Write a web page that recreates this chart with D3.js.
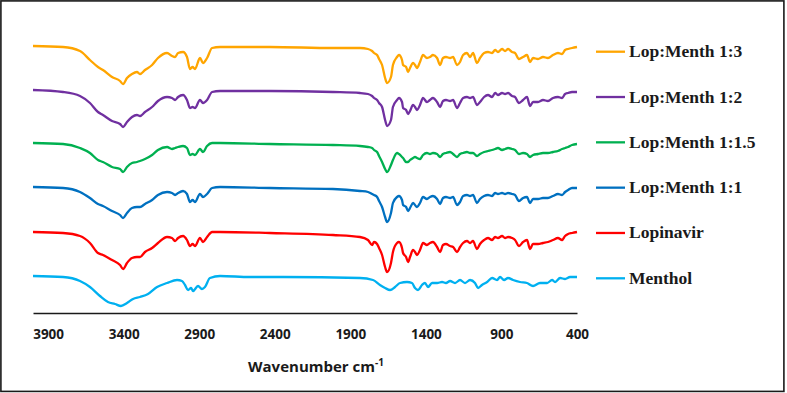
<!DOCTYPE html>
<html>
<head>
<meta charset="utf-8">
<script src="https://cdn.jsdelivr.net/npm/d3@7"></script>
<style>
  body { margin: 0; background: #fff; }
  svg { display: block; }
</style>
</head>
<body>
<div id="chart"></div>
<script>
// wavenumber grid shared by lopinavir and the physical mixtures (cm-1)
var wavenumbers = [4000, 3801, 3689, 3623, 3570, 3537, 3477, 3424, 3404, 3378,
  3345, 3312, 3292, 3259, 3212, 3173, 3113, 3080, 3060, 3040,
  3007, 2981, 2961, 2944, 2928, 2895, 2875, 2848, 2815, 2762,
  2432, 2015, 1836, 1783, 1756, 1743, 1723, 1710, 1690, 1670,
  1657, 1631, 1618, 1591, 1578, 1558, 1551, 1531, 1518, 1505,
  1485, 1472, 1459, 1439, 1419, 1393, 1373, 1353, 1326, 1306,
  1287, 1267, 1240, 1220, 1194, 1174, 1154, 1128, 1108, 1088,
  1062, 1042, 1015, 989, 962, 942, 923, 896, 876, 856,
  830, 810, 784, 757, 731, 711, 691, 658, 625, 592,
  559, 526, 499, 479, 459, 433, 400]

// transmittance, stacked with an offset (a.u.)
var lopMenth13 = [267, 266, 262, 253, 246, 243, 236, 232, 229, 235,
  239, 241, 239, 243, 248, 255, 260, 257, 256, 260,
  261, 256, 244, 246, 244, 255, 250, 255, 265, 266,
  266, 265, 265, 264, 262, 260, 258, 254, 248, 235,
  230, 236, 248, 256, 258, 253, 248, 246, 241, 245,
  250, 248, 245, 251, 258, 255, 256, 258, 255, 248,
  255, 256, 255, 256, 248, 251, 258, 260, 256, 260,
  250, 255, 260, 261, 260, 263, 261, 264, 262, 264,
  261, 260, 254, 256, 258, 251, 255, 254, 256, 255,
  258, 260, 259, 263, 264, 265, 266]

var lopMenth12 = [223, 221, 217, 210, 201, 198, 192, 189, 186, 191,
  196, 198, 197, 201, 206, 212, 216, 215, 213, 216,
  218, 213, 205, 206, 205, 213, 210, 213, 221, 222,
  222, 221, 220, 219, 217, 215, 213, 210, 206, 193,
  187, 193, 206, 213, 215, 211, 205, 203, 199, 202,
  208, 206, 203, 208, 215, 211, 213, 215, 211, 206,
  212, 213, 212, 213, 205, 210, 215, 216, 215, 216,
  208, 211, 216, 218, 216, 220, 218, 220, 219, 220,
  217, 216, 210, 213, 216, 207, 211, 211, 213, 212,
  215, 216, 215, 219, 220, 221, 221]

var lopMenth115 = [170, 169, 165, 160, 153, 151, 146, 144, 141, 146,
  150, 151, 152, 154, 158, 163, 166, 164, 165, 166,
  167, 165, 158, 159, 158, 164, 161, 167, 170, 170,
  169, 168, 167, 166, 165, 163, 161, 157, 151, 144,
  141, 148, 153, 160, 159, 156, 155, 151, 151, 153,
  155, 156, 155, 154, 158, 160, 159, 160, 159, 156,
  159, 160, 161, 159, 156, 159, 160, 161, 160, 160,
  157, 159, 161, 162, 163, 164, 165, 163, 164, 165,
  164, 163, 159, 160, 159, 156, 158, 159, 160, 160,
  161, 162, 164, 165, 166, 168, 169]

var lopMenth11 = [126, 125, 121, 115, 109, 107, 102, 98, 95, 100,
  105, 106, 106, 109, 113, 118, 121, 120, 118, 120,
  122, 119, 111, 113, 111, 119, 116, 119, 125, 126,
  125, 124, 122, 121, 119, 118, 116, 112, 106, 96,
  91, 100, 110, 116, 117, 113, 108, 106, 102, 105,
  110, 108, 106, 110, 116, 114, 116, 117, 114, 109,
  115, 116, 115, 116, 108, 111, 117, 118, 117, 118,
  110, 114, 117, 118, 117, 120, 119, 120, 119, 120,
  119, 118, 112, 115, 116, 110, 114, 114, 115, 115,
  117, 119, 118, 121, 123, 125, 125]

var lopinavir = [81, 80, 77, 70, 60, 58, 53, 48, 44, 50,
  55, 56, 56, 61, 65, 70, 76, 75, 72, 75,
  77, 73, 67, 69, 67, 75, 71, 76, 81, 81,
  80, 78, 76, 73, 68, 71, 69, 65, 58, 46,
  41, 50, 61, 70, 71, 65, 60, 56, 51, 56,
  63, 61, 58, 63, 70, 68, 70, 71, 66, 61,
  68, 69, 67, 66, 61, 66, 70, 72, 70, 72,
  64, 69, 73, 75, 73, 76, 75, 77, 75, 76,
  75, 73, 67, 71, 73, 64, 69, 69, 70, 71,
  73, 75, 73, 77, 79, 80, 81]

// menthol has its own grid
var mentholWavenumbers = [4000, 3801, 3689, 3623, 3557, 3504, 3457, 3418, 3378, 3338,
  3292, 3239, 3179, 3113, 3047, 3014, 2994, 2974, 2954, 2941,
  2908, 2882, 2862, 2829, 2762, 2564, 2345, 1836, 1750, 1704,
  1670, 1637, 1604, 1571, 1525, 1492, 1472, 1452, 1426, 1406,
  1386, 1359, 1326, 1293, 1267, 1240, 1207, 1174, 1141, 1108,
  1075, 1055, 1029, 995, 962, 929, 909, 883, 856, 823,
  777, 731, 691, 645, 598, 565, 545, 512, 479, 446, 400]

var menthol = [37, 36, 32, 26, 17, 11, 9, 7, 10, 14,
  16, 19, 26, 30, 33, 32, 28, 23, 25, 22,
  27, 24, 26, 35, 37, 36, 36, 35, 33, 28,
  25, 23, 26, 30, 31, 30, 25, 23, 28, 30,
  26, 30, 30, 31, 30, 32, 30, 33, 30, 33,
  30, 25, 28, 31, 35, 33, 36, 33, 35, 33,
  31, 30, 27, 30, 30, 33, 31, 35, 34, 36, 36]

var seriesNames = ["Lop:Menth 1:3", "Lop:Menth 1:2", "Lop:Menth 1:1.5", "Lop:Menth 1:1", "Lopinavir", "Menthol"]
var seriesColors = ["#FFA500", "#7030A0", "#00B050", "#0070C0", "#FF0000", "#00B0F0"]
var tickLabels = [3900, 3400, 2900, 2400, 1900, 1400, 900, 400]

var series = [
  {name: seriesNames[0], wn: wavenumbers, t: lopMenth13},
  {name: seriesNames[1], wn: wavenumbers, t: lopMenth12},
  {name: seriesNames[2], wn: wavenumbers, t: lopMenth115},
  {name: seriesNames[3], wn: wavenumbers, t: lopMenth11},
  {name: seriesNames[4], wn: wavenumbers, t: lopinavir},
  {name: seriesNames[5], wn: mentholWavenumbers, t: menthol}
]

var width = 787, height = 393

var svg = d3.select("#chart")
  .append("svg")
  .attr("width", width)
  .attr("height", height)

// frame round the whole picture
svg.append("rect")
  .attr("x", 0.9).attr("y", 0.9)
  .attr("width", 783).attr("height", 390.5)
  .attr("fill", "none")
  .attr("stroke", "#1a1a1a")
  .attr("stroke-width", 1.6)

var x = d3.scaleLinear()
  .domain([4000, 400])
  .range([33, 577])

var y = d3.scaleLinear()
  .domain([0, 300])
  .range([313, 13])

var color = d3.scaleOrdinal()
  .domain(seriesNames)
  .range(seriesColors)

// x axis
var xAxis = svg.append("g")
  .attr("transform", "translate(0," + y(0) + ")")
  .call(d3.axisBottom(x)
    .tickValues(tickLabels)
    .tickSize(0)
    .tickPadding(16)
    .tickFormat(d3.format("d")))

xAxis.select(".domain")
  .attr("stroke", "#1a1a1a")
  .attr("stroke-width", 1.6)

xAxis.selectAll("text")
  .attr("fill", "#1a1a1a")
  .style("font-family", "'Open Sans', sans-serif")
  .style("font-weight", "bold")
  .style("font-size", "13.5px")

// axis title
var title = svg.append("text")
  .attr("x", (x.range()[0] + x.range()[1]) / 2 + 11)
  .attr("y", 372)
  .attr("text-anchor", "middle")
  .attr("fill", "#1a1a1a")
  .style("font-family", "'Open Sans', sans-serif")
  .style("font-weight", "bold")
  .style("font-size", "15px")
title.append("tspan").text("Wavenumber cm")
title.append("tspan").attr("dy", -6).style("font-size", "10px").text("-1")

// spectra
var line = d3.line()
  .x(function(d) { return x(d[0]) })
  .y(function(d) { return y(d[1]) })
  .curve(d3.curveMonotoneX)

svg.append("g")
  .selectAll("path")
  .data(series)
  .enter()
  .append("path")
  .attr("d", function(s) { return line(d3.zip(s.wn, s.t)) })
  .attr("fill", "none")
  .attr("stroke", function(s) { return color(s.name) })
  .attr("stroke-width", 2.3)
  .attr("stroke-linejoin", "round")

// legend
var legendY = d3.scalePoint()
  .domain(seriesNames)
  .range([51.7, 278.3])

var legend = svg.append("g")
  .selectAll("g")
  .data(seriesNames)
  .enter()
  .append("g")
  .attr("transform", function(d) { return "translate(596," + legendY(d) + ")" })

legend.append("line")
  .attr("x1", 0).attr("x2", 29)
  .attr("stroke", function(d) { return color(d) })
  .attr("stroke-width", 2.3)

legend.append("text")
  .attr("x", 33)
  .attr("y", 5.5)
  .attr("fill", "#1a1a1a")
  .style("font-family", "'Liberation Serif', 'Times New Roman', serif")
  .style("font-weight", "bold")
  .style("font-size", "17.5px")
  .text(function(d) { return d })
</script>
</body>
</html>
